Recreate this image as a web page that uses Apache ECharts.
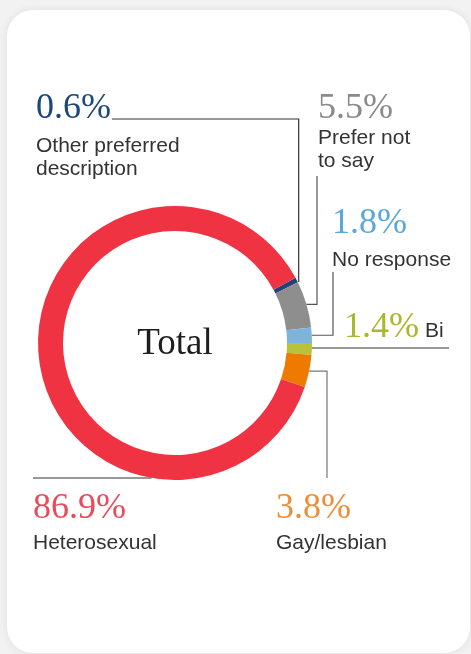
<!DOCTYPE html>
<html>
<head>
<meta charset="utf-8">
<script src="https://cdn.jsdelivr.net/npm/echarts@6/dist/echarts.min.js"></script>
<style>
  html, body { margin: 0; padding: 0; background: #f2f2f2; }
  #chart { width: 471px; height: 654px; }
</style>
</head>
<body>
<div id="chart"></div>
<script>
// survey shares, in ring order (clockwise from the upper right)
const categories = ['Other preferred description', 'Prefer not to say', 'No response', 'Bi', 'Gay/lesbian', 'Heterosexual'];
const labelLines = [['Other preferred', 'description'], ['Prefer not', 'to say'], ['No response'], ['Bi'], ['Gay/lesbian'], ['Heterosexual']];
const shares = [0.6, 5.5, 1.8, 1.4, 3.8, 86.9];

const sliceColors = ['#22407a', '#8e8e8e', '#7db4dc', '#b8c23a', '#ee7a00', '#ef3342'];
const valueColors = ['#1d4877', '#8a8a8a', '#5aa7da', '#a9b92e', '#f08c34', '#ea4a5a'];

const cx = 175, cy = 343, rIn = 112, rOut = 137;
const serif = '"Liberation Serif", "DejaVu Serif", serif';
const sans = '"Liberation Sans", Arial, sans-serif';

// the ring is rotated so that the No response / Bi boundary sits at 3 o'clock
const startAngle = (shares[0] + shares[1] + shares[2]) * 3.6;

// point on the outer edge at the middle of slice i
function midPoint(i) {
  let before = 0;
  for (let k = 0; k < i; k++) before += shares[k];
  const a = (startAngle - (before + shares[i] / 2) * 3.6) * Math.PI / 180;
  return [cx + rOut * Math.cos(a), cy - rOut * Math.sin(a)];
}

const pct = v => v.toFixed(1) + '%';

// where each slice's annotation goes (x, value centre, first label line centre)
const labelPos = [
  { x: 36, vy: 109, ly: 146 },
  { x: 318, vy: 109, ly: 138 },
  { x: 332, vy: 224, ly: 260 },
  { x: 344, vy: 328, ly: 331, inline: 425 },
  { x: 276, vy: 509, ly: 543 },
  { x: 33, vy: 509, ly: 543 }
];

const graphics = [{
  type: 'rect', z: 0,
  shape: { x: 7, y: 10, width: 463, height: 643, r: 26 },
  style: { fill: '#fff', shadowColor: 'rgba(0,0,0,0.08)', shadowBlur: 10 }
}];

function poly(points, color) {
  graphics.push({ type: 'polyline', z: 1, shape: { points }, style: { stroke: color || '#555', lineWidth: 1.2, fill: null } });
}

const p0 = midPoint(0), p1 = midPoint(1), p2 = midPoint(2), p3 = midPoint(3), p4 = midPoint(4);
poly([[112, 119], [p0[0] + 2, 119], [p0[0] + 2, p0[1] + 2]], '#333');
poly([p1, [317, p1[1]], [317, 176]]);
poly([p2, [333, p2[1]], [333, 272]]);
poly([[p3[0], p3[1] - 1], [449, p3[1] - 1]], '#333');
poly([p4, [327, p4[1]], [327, 478]], '#777');
poly([[33, 478], [cx - Math.sqrt(rOut * rOut - (478 - cy) * (478 - cy)), 478]], '#333');

categories.forEach((name, i) => {
  const pos = labelPos[i];
  graphics.push({
    type: 'text', z: 10,
    style: { text: pct(shares[i]), x: pos.x, y: pos.vy, fill: valueColors[i], font: '36px ' + serif, align: 'left', verticalAlign: 'middle' }
  });
  labelLines[i].forEach((t, j) => {
    graphics.push({
      type: 'text', z: 10,
      style: { text: t, x: pos.inline || pos.x, y: pos.ly + j * 23, fill: '#333', font: '21px ' + sans, align: 'left', verticalAlign: 'middle' }
    });
  });
});

graphics.push({
  type: 'text', z: 10,
  style: { text: 'Total', x: cx, y: cy + 1, fill: '#1e1e1e', font: '37px ' + serif, align: 'center', verticalAlign: 'middle' }
});

const chart = echarts.init(document.getElementById('chart'));
chart.setOption({
  backgroundColor: '#f2f2f2',
  animation: false,
  graphic: graphics,
  series: [{
    type: 'pie',
    z: 5,
    center: [cx, cy],
    radius: [rIn, rOut],
    startAngle: startAngle,
    clockwise: true,
    silent: true,
    label: { show: false },
    labelLine: { show: false },
    itemStyle: { borderWidth: 0 },
    data: categories.map((name, i) => ({ name, value: shares[i], itemStyle: { color: sliceColors[i] } }))
  }]
});
</script>
</body>
</html>
